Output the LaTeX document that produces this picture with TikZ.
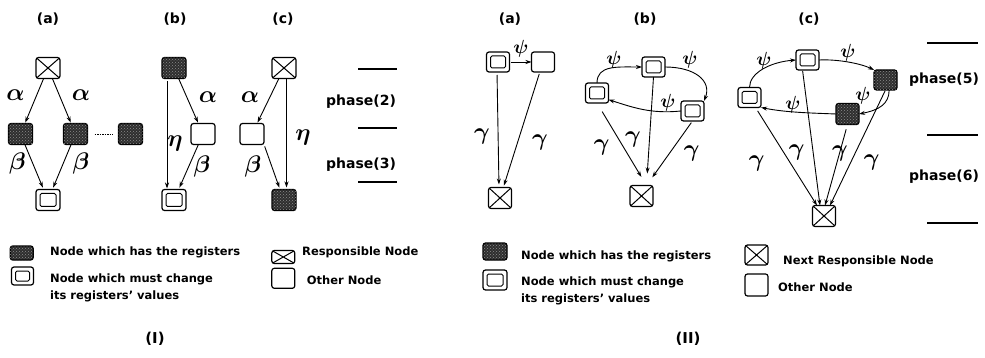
\RequirePackage{fix-cm}
\documentclass[tikz,border=0pt]{standalone}
\usepackage{amsmath}
\usepackage{fontspec}
\setmainfont{DejaVu Sans}
\usetikzlibrary{arrows.meta,patterns}

\tikzset{
  nbox/.style={draw, line width=1.2pt, rounded corners=2.5pt,
    minimum width=23pt, minimum height=20pt, inner sep=0pt, outer sep=0pt},
  big/.style={minimum width=24pt, minimum height=21pt},
  regnode/.style={nbox, fill=black!82,
    postaction={pattern=crosshatch dots, pattern color=white!55!black}},
  chgnode/.style={nbox, path picture={\draw[line width=1pt, rounded corners=1.5pt]
    ([shift={(4pt,4pt)}]path picture bounding box.south west) rectangle
    ([shift={(-4pt,-4pt)}]path picture bounding box.north east);}},
  respnode/.style={nbox, path picture={\draw[line width=1pt]
    (path picture bounding box.south west) -- (path picture bounding box.north east)
    (path picture bounding box.north west) -- (path picture bounding box.south east);}},
  othnode/.style={nbox},
  msg/.style={-{Stealth[length=6pt,width=4pt]}, line width=0.9pt},
  grk/.style={inner sep=0pt, font=\fontsize{24}{24}\selectfont},
  psil/.style={inner sep=0pt, anchor=south, font=\fontsize{19}{19}\selectfont},
  ttl/.style={inner sep=0pt, font=\fontsize{14}{14}\selectfont\bfseries},
  phs/.style={inner sep=0pt, font=\fontsize{14}{14}\selectfont\bfseries},
  leg/.style={inner sep=0pt, anchor=west, align=left,
    font=\fontsize{11.5}{17}\selectfont\bfseries},
  sep/.style={line width=1.2pt},
}

\begin{document}
\begin{tikzpicture}[x=1pt,y=-1pt]
\fill[white] (0,0) rectangle (985,358);
\useasboundingbox (0,0) rectangle (985,358);

% ===================== Part (I) =====================
\node[ttl] (ta1) at (48,19) {(a)};
\node[ttl] (tb1) at (175,19) {(b)};
\node[ttl] (tc1) at (283,19) {(c)};

% (a)
\node[respnode,big] (a1r) at (48,68) {};
\node[regnode,big] (a1s) at (20.5,134) {};
\node[regnode,big] (a1t) at (75.5,134) {};
\node[regnode,big] (a1u) at (130.5,134) {};
\node[chgnode,big] (a1d) at (48,200) {};
\draw[msg, shorten >=1pt] (a1r) -- (a1s);
\draw[msg, shorten >=1pt] (a1r) -- (a1t);
\draw[msg, shorten >=2pt] (a1s) -- (a1d);
\draw[msg, shorten >=2pt] (a1t) -- (a1d);
\draw[line width=0.8pt, dash pattern=on 1.5pt off 1pt, shorten <=7pt, shorten >=6pt] (a1t) -- (a1u);
\node[grk] (a1al) at (15.5,95) {$\boldsymbol\alpha$};
\node[grk] (a1ar) at (81,95) {$\boldsymbol\alpha$};
\node[grk] (a1bl) at (17.5,164) {$\boldsymbol\beta$};
\node[grk] (a1br) at (81,164) {$\boldsymbol\beta$};

% (b)
\node[regnode,big] (b1t) at (174,68) {};
\node[othnode,big] (b1w) at (203,134) {};
\node[chgnode,big] (b1d) at (174,200) {};
\draw[msg, shorten >=1pt] (b1t) -- (b1w);
\draw[msg, shorten <=3pt, shorten >=1pt] ([xshift=-7pt]b1t.south) -- ([xshift=-7pt]b1d.north);
\draw[msg, shorten >=2pt] (b1w) -- (b1d);
\node[grk] (b1a) at (208,97) {$\boldsymbol\alpha$};
\node[grk] (b1e) at (175,144) {$\boldsymbol\eta$};
\node[grk] (b1b) at (202,167) {$\boldsymbol\beta$};

% (c)
\node[respnode,big] (c1r) at (284,68) {};
\node[othnode,big] (c1w) at (252,134) {};
\node[regnode,big] (c1s) at (284,200) {};
\draw[msg, shorten >=1pt] (c1r) -- (c1w);
\draw[msg, shorten >=2pt] ([xshift=2.5pt]c1r.south) -- ([xshift=2.5pt]c1s.north);
\draw[msg, shorten <=2pt, shorten >=2pt] (c1w.south east) -- ([xshift=-4pt]c1s.north);
\node[grk] (c1a) at (250,97) {$\boldsymbol\alpha$};
\node[grk] (c1e) at (303,138) {$\boldsymbol\eta$};
\node[grk] (c1b) at (253,167) {$\boldsymbol\beta$};

% phases
\draw[sep] (358,69) -- (397,69);
\draw[sep] (358,128) -- (397,128);
\draw[sep] (358,182) -- (397,182);
\node[phs] (p2) at (361,102) {phase(2)};
\node[phs] (p3) at (361,165) {phase(3)};

% legend
\node[regnode, minimum width=23pt, minimum height=14pt] (k1s) at (21.7,253) {};
\node[leg] (k1st) at (50,252) {Node which has the registers};
\node[chgnode, minimum width=22pt, minimum height=18pt] (k1d) at (22.5,276) {};
\node[leg] (k1dt) at (50,287.5) {Node which must change\\its registers' values};
\node[respnode, minimum width=23pt, minimum height=13pt] (k1r) at (283.3,257) {};
\node[leg] (k1rt) at (302,252) {Responsible Node};
\node[othnode, minimum width=23pt, minimum height=20pt] (k1o) at (283.3,278.3) {};
\node[leg] (k1ot) at (306.7,280) {Other Node};
\node[inner sep=0pt, font=\fontsize{15}{15}\selectfont\bfseries] (n1) at (155,339) {(I)};

% ===================== Part (II) =====================
\node[ttl] (ta2) at (510,19) {(a)};
\node[ttl] (tb2) at (645,19) {(b)};
\node[ttl] (tc2) at (809,19) {(c)};

% (a)
\node[chgnode] (a2d) at (498,62) {};
\node[othnode] (a2w) at (543,62) {};
\node[respnode, minimum height=21pt] (a2r) at (500,198) {};
\draw[msg, shorten <=1pt] (a2d) -- (a2w);
\node[psil] (a2p) at (521,57) {$\boldsymbol\psi$};
\draw[msg, shorten <=3pt, shorten >=3pt] ([xshift=-1pt]a2d.south) -- ([xshift=-1pt]a2r.north);
\draw[msg, shorten <=2pt, shorten >=2pt] (a2w) -- (a2r);
\node[grk] (a2g1) at (482,137) {$\boldsymbol\gamma$};
\node[grk] (a2g2) at (540,143) {$\boldsymbol\gamma$};

% (b)
\node[chgnode] (b2t) at (653.5,67) {};
\node[chgnode] (b2l) at (597,93) {};
\node[chgnode] (b2r) at (692.5,111) {};
\node[respnode, minimum height=21pt] (b2x) at (641.5,196) {};
\draw[msg] (b2l.north) .. controls +(0,-18) and +(-25,0) .. (b2t.west);
\draw[msg] (b2t.east) .. controls +(30,0) and +(8,-20) .. (b2r.north east);
\draw[msg] (b2r.west) .. controls +(-30,3) and +(25,8) .. (b2l.-30);
\node[psil] (b2p1) at (614,68) {$\boldsymbol\psi$};
\node[psil] (b2p2) at (690,68) {$\boldsymbol\psi$};
\node[psil] (b2p3) at (668,111) {$\boldsymbol\psi$};
\coordinate (b2in) at ([xshift=5pt]b2x.north);
\draw[msg, shorten <=10pt, shorten >=10pt] (b2l.south) -- (b2in);
\draw[msg, shorten >=12pt] (b2t.south) -- (b2in);
\draw[msg, shorten <=2pt, shorten >=10pt] (b2r.south) -- (b2in);
\node[grk] (b2g1) at (601.7,148) {$\boldsymbol\gamma$};
\node[grk] (b2g2) at (633,140) {$\boldsymbol\gamma$};
\node[grk] (b2g3) at (691.7,154) {$\boldsymbol\gamma$};

% (c)
\node[chgnode] (c2t) at (807.5,60) {};
\node[chgnode] (c2l) at (749.5,97.5) {};
\node[regnode] (c2a) at (885.5,80) {};
\node[regnode, minimum height=21pt] (c2b) at (847.5,114) {};
\node[respnode, minimum height=21pt] (c2x) at (824,216) {};
\draw[msg] (c2l.north) .. controls +(0,-15) and +(-25,2) .. (c2t.west);
\draw[msg] (c2t.east) .. controls +(20,-1) and +(-12,-6) .. (c2a.north west);
\draw[msg] (c2a.-70) .. controls +(0,14) and +(20,-4) .. (c2b.east);
\draw[msg] (c2b.west) .. controls +(-25,-1) and +(25,5) .. (c2l.south east);
\node[psil] (c2p1) at (764,69) {$\boldsymbol\psi$};
\node[psil] (c2p2) at (848,61) {$\boldsymbol\psi$};
\node[psil] (c2p3) at (863,104) {$\boldsymbol\psi$};
\node[psil] (c2p4) at (793,113) {$\boldsymbol\psi$};
\draw[msg, shorten <=4pt] ([xshift=6pt]c2l.south) -- ([xshift=-7pt]c2x.north);
\draw[msg, shorten <=1pt] ([xshift=-5pt]c2t.south) -- ([xshift=-4pt]c2x.north);
\draw[msg, shorten <=5pt] (c2b.south) -- ([xshift=1pt]c2x.north);
\draw[msg, shorten <=1pt] (c2a.south) -- ([xshift=6pt]c2x.north);
\node[grk] (c2g1) at (756.7,164) {$\boldsymbol\gamma$};
\node[grk] (c2g2) at (796.7,152.5) {$\boldsymbol\gamma$};
\node[grk] (c2g3) at (840,154) {$\boldsymbol\gamma$};
\node[grk] (c2g4) at (871.7,162.5) {$\boldsymbol\gamma$};

% phases
\draw[sep] (927,43) -- (978,43);
\draw[sep] (927,135) -- (978,135);
\draw[sep] (927,223) -- (978,223);
\node[phs] (p5) at (944,80) {phase(5)};
\node[phs] (p6) at (944,177) {phase(6)};

% legend
\node[regnode, minimum width=24pt, minimum height=17pt] (k2s) at (495,251.5) {};
\node[leg] (k2st) at (521,256.7) {Node which has the registers};
\node[chgnode, minimum width=24pt, minimum height=20pt] (k2d) at (495,280) {};
\node[leg] (k2dt) at (521,291) {Node which must change\\its registers' values};
\node[respnode, minimum width=23pt, minimum height=20pt] (k2r) at (756.5,255) {};
\node[leg] (k2rt) at (783,261) {Next Responsible Node};
\node[othnode, minimum width=23pt, minimum height=22pt] (k2o) at (756.5,285) {};
\node[leg] (k2ot) at (778,287.5) {Other Node};
\node[inner sep=0pt, font=\fontsize{15}{15}\selectfont\bfseries] (n2) at (688,339) {(II)};
\end{tikzpicture}
\end{document}
